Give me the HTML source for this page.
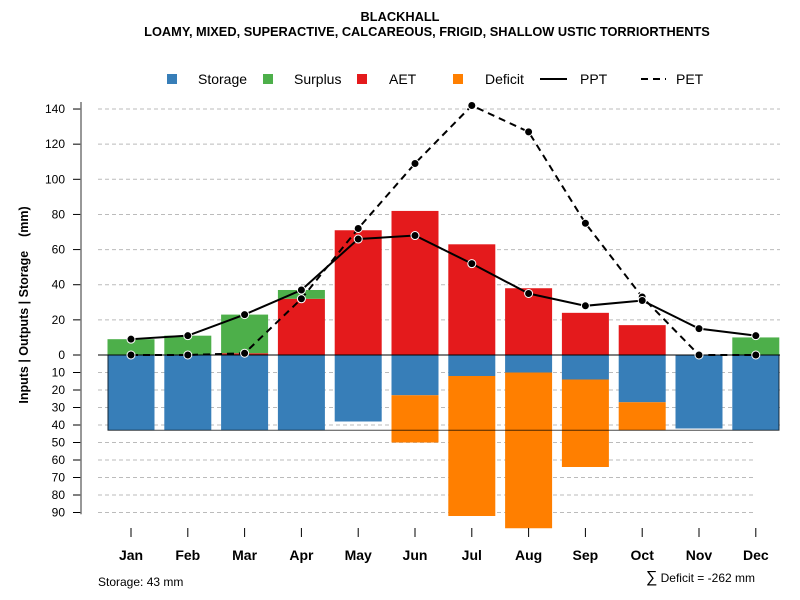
<!DOCTYPE html>
<html><head><meta charset="utf-8"><style>
body{margin:0;background:#fff}
svg{display:block;font-family:"Liberation Sans",Arial,sans-serif}
</style></head><body>
<svg id="chart" width="800" height="600" viewBox="0 0 800 600">
<text x="400" y="21" text-anchor="middle" font-size="12.8" font-weight="bold">BLACKHALL</text>
<text x="427" y="36" text-anchor="middle" font-size="12.8" font-weight="bold">LOAMY, MIXED, SUPERACTIVE, CALCAREOUS, FRIGID, SHALLOW USTIC TORRIORTHENTS</text>
<g>
<rect x="167" y="74" width="10" height="10" fill="#377eb8"/>
<text x="198" y="84" font-size="14">Storage</text>
<rect x="263" y="74" width="10" height="10" fill="#4daf4a"/>
<text x="294" y="84" font-size="14">Surplus</text>
<rect x="357" y="74" width="10" height="10" fill="#e41a1c"/>
<text x="389" y="84" font-size="14">AET</text>
<rect x="453" y="74" width="10" height="10" fill="#ff7f00"/>
<text x="485" y="84" font-size="14">Deficit</text>
<line x1="540" y1="79" x2="567" y2="79" stroke="#000" stroke-width="2"/>
<text x="580" y="84" font-size="14">PPT</text>
<line x1="641" y1="79" x2="666" y2="79" stroke="#000" stroke-width="2" stroke-dasharray="7,5"/>
<text x="676" y="84" font-size="14">PET</text>
</g>
<text transform="translate(28,305) rotate(-90)" text-anchor="middle" font-size="12.5" font-weight="bold" xml:space="preserve">Inputs | Outputs | Storage    (mm)</text>
<text x="98" y="586" font-size="12">Storage: 43 mm</text>
<text x="755" y="582" text-anchor="end" font-size="12"><tspan font-size="16">∑</tspan> Deficit = -262 mm</text>
<g id="grid"></g><g id="bars"></g><g id="over"></g><g id="axes"></g>
</svg>
<script>
const months=["Jan","Feb","Mar","Apr","May","Jun","Jul","Aug","Sep","Oct","Nov","Dec"];
const storage=[43,43,43,43,38,23,12,10,14,27,42,43];
const deficit=[0,0,0,0,0,27,80,89,50,16,0,0];
const aet=[0,0,1,32,71,82,63,38,24,17,0,0];
const surplus=[9,11,22,5,0,0,0,0,0,0,0,10];
const ppt=[9,11,23,37,66,68,52,35,28,31,15,11];
const pet=[0,0,1,32,72,109,142,127,75,33,0,0];
const upTicks=[0,20,40,60,80,100,120,140];
const downTicks=[10,20,30,40,50,60,70,80,90];
const storageCap=43;
const NS="http://www.w3.org/2000/svg";
const y0=355,kUp=1.757,kDn=1.75;
const yU=v=>y0-v*kUp, yD=v=>y0+v*kDn;
const xC=i=>131+i*56.8, bw=47;
function mk(p,t,a){const e=document.createElementNS(NS,t);for(const k in a)e.setAttribute(k,a[k]);p.appendChild(e);return e;}
const G=document.getElementById('grid'),B=document.getElementById('bars'),O=document.getElementById('over'),A=document.getElementById('axes');
upTicks.forEach(v=>{if(v>0){const l=mk(G,'line',{x1:98,x2:780,y1:yU(v),y2:yU(v),stroke:'#bbb','stroke-dasharray':'4,3'});

}
const t=mk(A,'line',{x1:73,x2:81,y1:yU(v),y2:yU(v),stroke:'#000'});


const tx=mk(A,'text',{x:65,y:yU(v)+4,'text-anchor':'end','font-size':12});tx.textContent=v;

});
downTicks.forEach(v=>{const l=mk(G,'line',{x1:98,x2:v<=40?780:756,y1:yD(v),y2:yD(v),stroke:'#bbb','stroke-dasharray':'4,3'});


const t=mk(A,'line',{x1:73,x2:81,y1:yD(v),y2:yD(v),stroke:'#000'});


const tx=mk(A,'text',{x:65,y:yD(v)+4,'text-anchor':'end','font-size':12});tx.textContent=v;

});
const ax=mk(A,'line',{x1:81,x2:81,y1:yU(144),y2:yD(91),stroke:'#777','stroke-width':1.5});


months.forEach((m,i)=>{const x=xC(i),l=x-bw/2;
let r;
r=mk(B,'rect',{x:l,y:y0,width:bw,height:storage[i]*kDn,fill:'#377eb8'});


if(deficit[i]>0){r=mk(B,'rect',{x:l,y:yD(storage[i]),width:bw,height:deficit[i]*kDn,fill:'#ff7f00'});

}
if(aet[i]>0){r=mk(B,'rect',{x:l,y:yU(aet[i]),width:bw,height:aet[i]*kUp,fill:'#e41a1c'});

}
if(surplus[i]>0){r=mk(B,'rect',{x:l,y:yU(aet[i]+surplus[i]),width:bw,height:surplus[i]*kUp,fill:'#4daf4a'});

}
const t=mk(A,'line',{x1:x,x2:x,y1:528,y2:537,stroke:'#000'});


const tx=mk(A,'text',{x:x,y:560,'text-anchor':'middle','font-size':14,'font-weight':'bold'});tx.textContent=m;

});
const box=mk(O,'rect',{x:108,y:y0,width:671,height:storageCap*kDn,fill:'none',stroke:'#000','stroke-opacity':0.7});


const zl=mk(O,'line',{x1:98,x2:780,y1:y0,y2:y0,stroke:'#000'});


function series(vals,name,dash){
const p=mk(O,'polyline',{points:vals.map((v,i)=>xC(i)+','+yU(v)).join(' '),fill:'none',stroke:'#000','stroke-width':2,'stroke-dasharray':dash});


vals.forEach((v,i)=>{const c=mk(O,'circle',{cx:xC(i),cy:yU(v),r:4,fill:'#000',stroke:'#fff','stroke-width':1});

});}
series(pet,'pet','7,5');
series(ppt,'ppt','none');
</script>
</body></html>
